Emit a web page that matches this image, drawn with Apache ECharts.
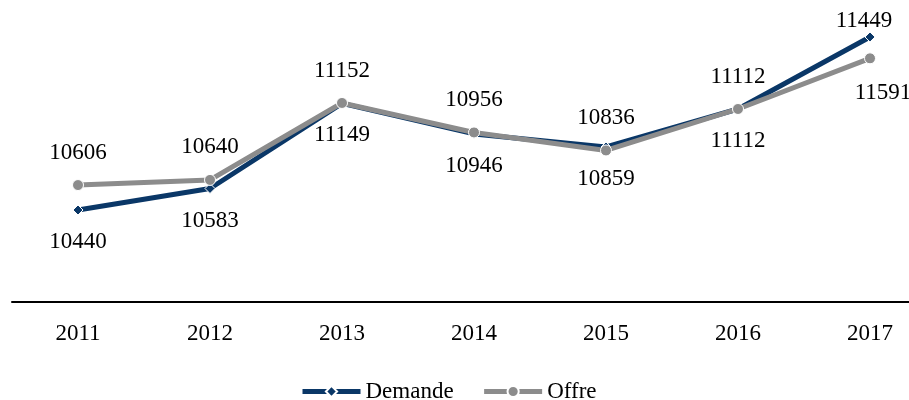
<!DOCTYPE html>
<html>
<head>
<meta charset="utf-8">
<script src="https://cdn.jsdelivr.net/npm/echarts@6/dist/echarts.min.js"></script>
<style>
  html, body { margin: 0; padding: 0; background: #fff; }
  #chart { width: 909px; height: 400px; }
</style>
</head>
<body>
<div id="chart"></div>
<script>
const years = ['2011', '2012', '2013', '2014', '2015', '2016', '2017'];
const demande = [10440, 10583, 11149, 10946, 10859, 11112, 11591];
const offre = [10606, 10640, 11152, 10956, 10836, 11112, 11449];

const blue = '#0a3767';
const grey = '#8c8c8c';
const font = '"Liberation Serif", "Times New Roman", serif';

// the 2017 labels sit away from their points in the original
const lastIdx = years.length - 1;
const demandeData = demande.map((v, i) =>
    i === lastIdx ? {value: v, label: {offset: [13, 24]}} : v);
const offreData = offre.map((v, i) =>
    i === lastIdx ? {value: v, label: {offset: [-6, -5]}} : v);

const chart = echarts.init(document.getElementById('chart'), null, {renderer: 'canvas'});
chart.setOption({
    animation: false,
    textStyle: {fontFamily: font},
    grid: {top: 0, bottom: 98, left: 12, width: 924, outerBoundsMode: 'none', containLabel: false},
    xAxis: {
        type: 'category',
        data: years,
        axisLine: {lineStyle: {color: '#000', width: 2}},
        axisTick: {show: false},
        axisLabel: {color: '#000', fontSize: 23, fontFamily: font, margin: 20}
    },
    yAxis: {
        type: 'value',
        min: 9828,
        max: 11837,
        show: false,
        splitLine: {show: false}
    },
    legend: {
        bottom: -8,
        left: 295,
        itemWidth: 58,
        itemHeight: 14,
        itemGap: 28,
        textStyle: {color: '#000', fontSize: 23, fontFamily: font},
        data: [
            {name: 'Demande', lineStyle: {width: 5}},
            {name: 'Offre', lineStyle: {width: 5}}
        ]
    },
    series: [
        {
            name: 'Demande',
            type: 'line',
            data: demandeData,
            symbol: 'diamond',
            symbolSize: 10,
            lineStyle: {color: blue, width: 5},
            itemStyle: {color: blue, borderColor: '#fff', borderWidth: 1},
            label: {
                show: true,
                position: 'bottom',
                distance: 15,
                color: '#000',
                fontSize: 23,
                fontFamily: font
            },
            z: 2
        },
        {
            name: 'Offre',
            type: 'line',
            data: offreData,
            symbol: 'circle',
            symbolSize: 11,
            lineStyle: {color: grey, width: 5},
            itemStyle: {color: grey, borderColor: '#fff', borderWidth: 1},
            label: {
                show: true,
                position: 'top',
                distance: 15,
                color: '#000',
                fontSize: 23,
                fontFamily: font
            },
            z: 3
        }
    ]
});
</script>
</body>
</html>
